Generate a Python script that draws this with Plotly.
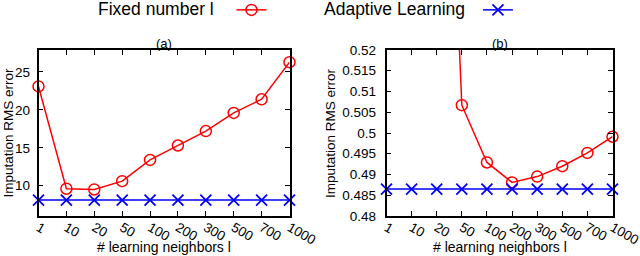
import plotly.graph_objects as go

categories = ["1", "10", "20", "50", "100", "200", "300", "500", "700", "1000"]
fixed_a = [23.1, 9.6, 9.5, 10.6, 13.4, 15.3, 17.2, 19.6, 21.4, 26.3]
adaptive_a = [8.1] * 10
fixed_b = [0.90, 0.70, 0.649, 0.5067, 0.4929, 0.4881, 0.4895, 0.4920, 0.4952, 0.4991]
adaptive_b = [0.4865] * 10
yticks_a = [10, 15, 20, 25]
yticks_b = [0.48, 0.485, 0.49, 0.495, 0.5, 0.505, 0.51, 0.515, 0.52]
ytext_b = ["0.48", "0.485", "0.49", "0.495", "0.5", "0.505", "0.51", "0.515", "0.52"]

RED = "#ff0000"
BLUE = "#0000ff"
FONT = "Liberation Sans, Arial, sans-serif"
W, H = 640, 256
YR_A = [6, 27.9]
YR_B = [0.48, 0.52]

xpos = list(range(len(categories)))

def circ(vals, yr):
    return dict(symbol="circle-open", size=11, color=RED,
                opacity=[1 if yr[0] <= v <= yr[1] else 0 for v in vals],
                line=dict(width=1.5, color=RED))

xm = dict(symbol="x-thin-open", size=11, color=BLUE, line=dict(width=1.8, color=BLUE))

fig = go.Figure()
fig.add_trace(go.Scatter(x=xpos, y=fixed_a, mode="lines+markers", name=" ",
                         line=dict(color=RED, width=1.5), marker=circ(fixed_a, YR_A),
                         cliponaxis=False, xaxis="x", yaxis="y", legend="legend"))
fig.add_trace(go.Scatter(x=xpos, y=adaptive_a, mode="lines+markers", name=" ",
                         line=dict(color=BLUE, width=1.5), marker=xm,
                         cliponaxis=False, xaxis="x", yaxis="y", legend="legend2"))
fig.add_trace(go.Scatter(x=xpos, y=fixed_b, mode="lines+markers", showlegend=False,
                         line=dict(color=RED, width=1.5), marker=circ(fixed_b, YR_B),
                         cliponaxis=False, xaxis="x2", yaxis="y2"))
fig.add_trace(go.Scatter(x=xpos, y=adaptive_b, mode="lines+markers", showlegend=False,
                         line=dict(color=BLUE, width=1.5), marker=xm,
                         cliponaxis=False, xaxis="x2", yaxis="y2"))

ydom = [1 - 216 / H, 1 - 50 / H]
xdom_a = [38.5 / W, 289.5 / W]
xdom_b = [386.5 / W, 612.5 / W]

axis_common = dict(showline=True, linecolor="black", linewidth=1.5, mirror="ticks",
                   ticks="inside", ticklen=5, tickcolor="black", tickwidth=1,
                   showgrid=False, zeroline=False, automargin=False,
                   ticklabeloverflow="allow",
                   tickfont=dict(family=FONT, size=13.5, color="black"))

xaxis_common = dict(axis_common, tickmode="array", tickvals=xpos, ticktext=categories,
                    range=[0, 9], tickangle=30, ticklabelstandoff=-3)

tfont = dict(family=FONT, size=14, color="black")
lfont = dict(family=FONT, size=17.5, color="black")

fig.update_layout(
    width=W, height=H,
    margin=dict(l=0, r=0, t=0, b=0, autoexpand=False),
    paper_bgcolor="white", plot_bgcolor="white",
    xaxis=dict(xaxis_common, domain=xdom_a, anchor="y"),
    xaxis2=dict(xaxis_common, domain=xdom_b, anchor="y2"),
    yaxis=dict(axis_common, domain=ydom, anchor="x", range=YR_A,
               tickmode="array", tickvals=yticks_a, ticklabelstandoff=4),
    yaxis2=dict(axis_common, domain=ydom, anchor="x2", range=YR_B,
                tickmode="array", tickvals=yticks_b, ticktext=ytext_b,
                ticklabelstandoff=6),
    legend=dict(x=96 / W, y=1 + 8 / H, xanchor="left", yanchor="top",
                orientation="h", bgcolor="rgba(0,0,0,0)",
                title=dict(text="Fixed number l\u00a0\u00a0", side="left", font=lfont),
                font=lfont),
    legend2=dict(x=322 / W, y=1 + 8 / H, xanchor="left", yanchor="top",
                 orientation="h", bgcolor="rgba(0,0,0,0)",
                 title=dict(text="Adaptive Learning\u00a0", side="left", font=lfont),
                 font=lfont),
    annotations=[
        dict(text="(a)", x=sum(xdom_a) / 2, y=ydom[1], xref="paper", yref="paper",
             xanchor="center", yanchor="bottom", showarrow=False, yshift=-3,
             font=dict(family=FONT, size=13, color="black")),
        dict(text="(b)", x=sum(xdom_b) / 2, y=ydom[1], xref="paper", yref="paper",
             xanchor="center", yanchor="bottom", showarrow=False, yshift=-3,
             font=dict(family=FONT, size=13, color="black")),
        dict(text="# learning neighbors l", x=sum(xdom_a) / 2, y=1 - 247 / H,
             xref="paper", yref="paper", xanchor="center", yanchor="middle",
             showarrow=False, font=tfont),
        dict(text="# learning neighbors l", x=sum(xdom_b) / 2, y=1 - 247 / H,
             xref="paper", yref="paper", xanchor="center", yanchor="middle",
             showarrow=False, font=tfont),
        dict(text="Imputation RMS error", x=7.5 / W, y=sum(ydom) / 2,
             xref="paper", yref="paper", xanchor="center", yanchor="middle",
             textangle=-90, showarrow=False, font=dict(tfont, size=13.5)),
        dict(text="Imputation RMS error", x=330 / W, y=sum(ydom) / 2,
             xref="paper", yref="paper", xanchor="center", yanchor="middle",
             textangle=-90, showarrow=False, font=dict(tfont, size=13.5)),
    ],
)

fig.write_html("out.html", config={"displayModeBar": False},
               post_script="document.body.style.margin='0';document.body.style.padding='0';")
